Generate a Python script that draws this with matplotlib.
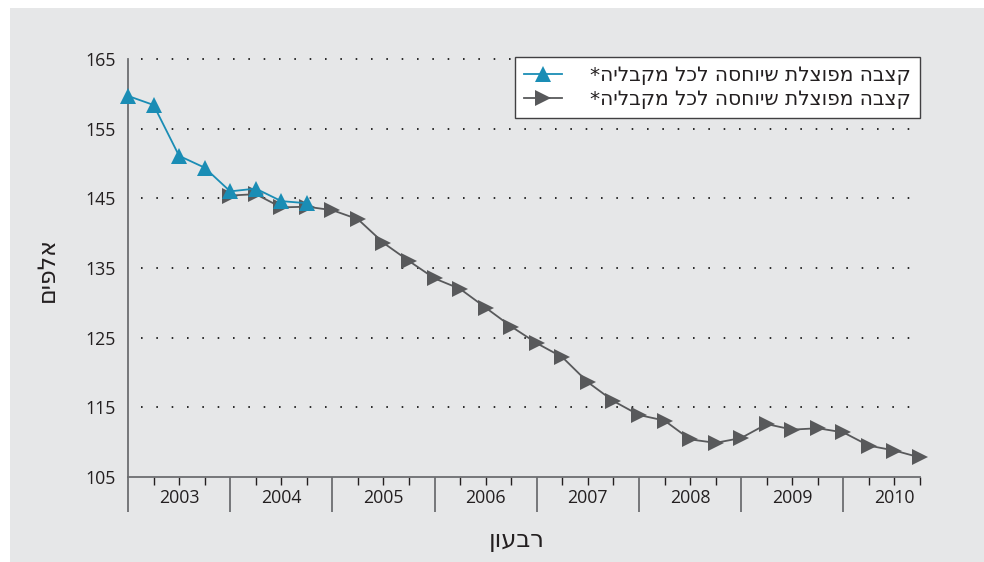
import matplotlib
matplotlib.use("Agg")
import matplotlib.pyplot as plt
from matplotlib.patches import Rectangle
from matplotlib.lines import Line2D

plt.rcParams['font.family'] = ['Open Sans', 'DejaVu Sans']

# ---- data ----
years = ["2003", "2004", "2005", "2006", "2007", "2008", "2009", "2010"]
blue_values = [159.7, 158.4, 151.1, 149.4, 146.0, 146.4, 144.6, 144.3]  # 2003Q1-2004Q4
gray_values = [145.4, 145.6, 143.7, 143.8,
               143.3, 142.0, 138.6, 136.0,
               133.5, 132.0, 129.3, 126.6,
               124.2, 122.2, 118.6, 115.9,
               113.9, 113.1, 110.4, 109.9,
               110.6, 112.6, 111.8, 112.0,
               111.4, 109.5, 108.8, 107.8]  # 2004Q1-2010Q4
yticks = [105, 115, 125, 135, 145, 155, 165]
legend_label = "קצבה מפוצלת שיוחסה לכל מקבליה*"
xlabel = "רבעון"
ylabel = "אלפים"


def vis(s):
    # matplotlib has no bidi support: give Hebrew in visual order
    return s[::-1]


HEB = ['DejaVu Sans']

W, H = 984, 562
fig = plt.figure(figsize=(W / 100, H / 100), dpi=100, facecolor="white")
bg = "#e6e7e8"
fig.patches.append(Rectangle((10 / W, 0), 1 - 10 / W, 1 - 8 / H,
                             transform=fig.transFigure, facecolor=bg,
                             edgecolor="none", zorder=-10))

left, right, bottom, top = 128, 920, 477, 59
ax = fig.add_axes([left / W, 1 - bottom / H, (right - left) / W, (bottom - top) / H])
ax.patch.set_visible(False)

blue_x = list(range(len(blue_values)))
gray_x = [4 + i for i in range(len(gray_values))]
n_q = 4 * len(years)

blue_c = "#1a8db5"
gray_c = "#58595b"

# grid lines
for v in yticks[1:]:
    ax.plot([0.52, n_q - 1], [v, v], color="black", lw=1.15,
            linestyle=(0, (1, 8.6)), zorder=1, clip_on=False)

ax.plot(gray_x, gray_values, color=gray_c, lw=1.3, marker=">", ms=11,
        markeredgewidth=0, zorder=3, clip_on=False)
ax.plot(blue_x, blue_values, color=blue_c, lw=1.3, marker="^", ms=11,
        markeredgewidth=0, zorder=4, clip_on=False)

ax.set_xlim(0, n_q - 1)
ax.set_ylim(105, 165)

for s in ["top", "right"]:
    ax.spines[s].set_visible(False)
for s in ["left", "bottom"]:
    ax.spines[s].set_color("#6d6e71")
    ax.spines[s].set_linewidth(1.3)

ax.set_yticks(yticks)
ax.set_yticklabels([str(v) for v in yticks], fontsize=12.8, color="#231f20")
ax.tick_params(axis="y", length=0, pad=9)

major = [4 * i for i in range(len(years))]
minor = [q for q in range(n_q) if q % 4 != 0]
ax.set_xticks(major)
ax.set_xticklabels([])
ax.set_xticks(minor, minor=True)
ax.tick_params(axis="x", which="major", length=25, width=1.3, color="#6d6e71", direction="out")
ax.tick_params(axis="x", which="minor", length=6, width=1.0, color="#231f20", direction="out")

for i, y in enumerate(years):
    ax.text(4 * i + 2, -0.05, y, transform=ax.get_xaxis_transform(),
            ha="center", va="center", fontsize=12.8, color="#231f20")

handles = [
    Line2D([], [], color=blue_c, lw=1.3, marker="^", ms=11, markeredgewidth=0),
    Line2D([], [], color=gray_c, lw=1.3, marker=">", ms=11, markeredgewidth=0),
]
leg = ax.legend(handles, [vis(legend_label), vis(legend_label)],
                loc="upper right", bbox_to_anchor=(1.0, 1.005), borderaxespad=0,
                prop={'family': HEB, 'size': 14.5}, frameon=True, fancybox=False,
                framealpha=1, edgecolor="#414042", handlelength=1.9,
                handletextpad=1.4, labelspacing=0.25, borderpad=0.45)
leg.get_frame().set_linewidth(1.0)
for t in leg.get_texts():
    t.set_color("#231f20")

fig.text(517 / W, 1 - 540 / H, vis(xlabel), ha="center", va="center",
         fontsize=17.5, color="#231f20", family=HEB)
fig.text(47 / W, 1 - 270 / H, vis(ylabel), ha="center", va="center",
         rotation=90, fontsize=17, color="#231f20", family=HEB)

fig.savefig("out.png", dpi=100, facecolor=fig.get_facecolor())
